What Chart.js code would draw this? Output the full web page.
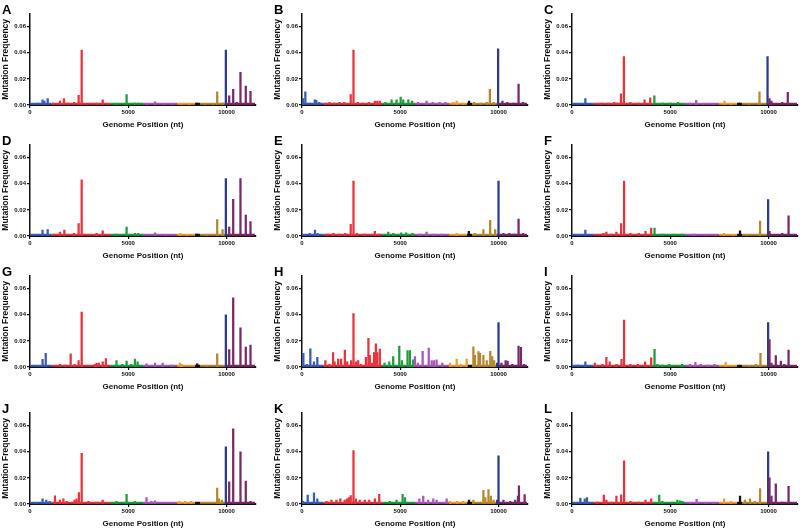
<!DOCTYPE html>
<html>
<head>
<meta charset="utf-8">
<script src="https://cdn.jsdelivr.net/npm/chart.js@4.4.1/dist/chart.umd.min.js"></script>
<style>
  body { margin: 0; background: #fff; width: 800px; height: 530px; position: relative; overflow: hidden; font-family: "Liberation Sans", Arial, sans-serif; }
  canvas { position: absolute; }
  .letter { position: absolute; font-weight: bold; font-size: 13px; line-height: 13px; color: #000; }
</style>
</head>
<body>
<script>
// genome regions (nt) and their colours
const regionStart = [0, 1100, 4080, 5750, 7480, 8400, 8650, 9920, 10030];
const regionEnd = [1100, 4080, 5750, 7480, 8400, 8650, 9920, 10030, 11450];
const regionColor = ["#3a5cb4", "#e8333d", "#1f9d3d", "#a957b8", "#f49b2c", "#111111", "#b7872e", "#2c3b90", "#7a2867"];
const baseFreq = 0.0009; // background level, drawn as the thick coloured baseline

const xTicks = [0, 5000, 10000];
const yTicks = [0, 0.02, 0.04, 0.06];

const panelLabels = ["A", "B", "C", "D", "E", "F", "G", "H", "I", "J", "K", "L"];

// mutation frequency per genome position
const posA = [180, 390, 640, 730, 900, 1190, 1525, 1730, 1950, 2240, 2475, 2630, 2900, 3390, 3700, 3950, 4400, 4915, 5340, 5510, 5950, 6360, 6800, 7200, 7700, 8100, 8475, 8900, 9300, 9525, 9800, 9966, 10136, 10340, 10520, 10710, 10980, 11220];
const freqA = [0.001, 0.0015, 0.004, 0.003, 0.005, 0.0015, 0.003, 0.005, 0.0015, 0.002, 0.0075, 0.042, 0.001, 0.0015, 0.004, 0.0012, 0.001, 0.008, 0.0015, 0.0015, 0.001, 0.0025, 0.0012, 0.001, 0.001, 0.001, 0.0015, 0.001, 0.001, 0.010, 0.0015, 0.042, 0.007, 0.012, 0.002, 0.025, 0.0145, 0.0105];

const posB = [50, 170, 400, 650, 730, 880, 1200, 1400, 1650, 1900, 2150, 2480, 2620, 2850, 3100, 3400, 3710, 3830, 3960, 4250, 4560, 4810, 5020, 5150, 5410, 5600, 5900, 6340, 6650, 7000, 7300, 7700, 7870, 8200, 8500, 8750, 9100, 9400, 9560, 9750, 9980, 10200, 10450, 10750, 11020, 11250];
const freqB = [0.005, 0.010, 0.0015, 0.004, 0.0035, 0.002, 0.0015, 0.002, 0.0015, 0.002, 0.002, 0.008, 0.042, 0.002, 0.0015, 0.002, 0.003, 0.003, 0.003, 0.002, 0.004, 0.004, 0.006, 0.004, 0.004, 0.003, 0.002, 0.003, 0.002, 0.002, 0.002, 0.002, 0.003, 0.0015, 0.003, 0.002, 0.0015, 0.002, 0.012, 0.002, 0.043, 0.003, 0.002, 0.0015, 0.016, 0.002];

const posC = [300, 680, 1500, 1850, 2150, 2300, 2490, 2640, 2970, 3400, 3690, 3980, 4190, 4600, 5000, 5400, 6000, 6320, 6700, 7200, 7760, 8100, 8490, 9000, 9540, 9950, 10050, 10150, 10700, 10980];
const freqC = [0.001, 0.005, 0.0015, 0.0015, 0.002, 0.0015, 0.0085, 0.037, 0.002, 0.0015, 0.004, 0.0055, 0.007, 0.0015, 0.0015, 0.002, 0.0015, 0.0035, 0.0012, 0.001, 0.003, 0.0012, 0.0015, 0.001, 0.010, 0.037, 0.005, 0.003, 0.002, 0.0097];

const posD = [200, 640, 900, 1190, 1525, 1750, 2240, 2475, 2630, 3390, 3700, 4400, 4915, 5340, 5510, 6360, 6900, 7650, 8000, 8475, 9000, 9525, 9800, 9966, 10136, 10340, 10710, 10980, 11220];
const freqD = [0.001, 0.0045, 0.005, 0.0015, 0.003, 0.0045, 0.002, 0.0095, 0.043, 0.002, 0.004, 0.0015, 0.0068, 0.002, 0.002, 0.0025, 0.0012, 0.002, 0.0012, 0.0015, 0.001, 0.0125, 0.005, 0.044, 0.0068, 0.028, 0.044, 0.016, 0.011];

const posE = [150, 390, 660, 800, 1300, 1600, 1900, 2200, 2480, 2620, 2800, 3200, 3710, 3900, 4390, 4650, 5050, 5300, 5620, 6000, 6340, 6700, 7100, 7870, 8490, 8800, 9230, 9575, 9830, 10000, 10250, 10550, 10800, 11020, 11250];
const freqE = [0.001, 0.002, 0.0045, 0.002, 0.0015, 0.002, 0.0015, 0.002, 0.009, 0.042, 0.002, 0.0015, 0.0035, 0.0015, 0.003, 0.002, 0.0025, 0.0025, 0.002, 0.0015, 0.003, 0.0015, 0.0015, 0.002, 0.0035, 0.002, 0.005, 0.012, 0.005, 0.042, 0.002, 0.002, 0.0015, 0.013, 0.002];

const posF = [300, 680, 1600, 1750, 2000, 2260, 2500, 2650, 2970, 3400, 3740, 4030, 4200, 4600, 5200, 5600, 6200, 6800, 7300, 7740, 8200, 8550, 8900, 9570, 9980, 10050, 10700, 11020];
const freqF = [0.001, 0.0045, 0.002, 0.003, 0.0015, 0.003, 0.0095, 0.042, 0.002, 0.002, 0.0035, 0.006, 0.006, 0.0015, 0.0015, 0.0015, 0.0015, 0.0012, 0.001, 0.002, 0.001, 0.004, 0.001, 0.0115, 0.0278, 0.0035, 0.002, 0.0155];

const posG = [420, 640, 800, 1525, 1800, 2070, 2270, 2475, 2630, 3300, 3390, 3500, 3700, 3860, 4400, 4700, 4915, 5150, 5340, 5475, 5930, 6360, 6750, 7200, 7630, 7720, 8510, 9000, 9525, 9966, 10136, 10340, 10710, 10980, 11220];
const freqG = [0.001, 0.0058, 0.0105, 0.002, 0.0015, 0.010, 0.002, 0.005, 0.042, 0.002, 0.003, 0.003, 0.004, 0.0065, 0.005, 0.002, 0.0045, 0.002, 0.006, 0.004, 0.0025, 0.003, 0.003, 0.0015, 0.003, 0.002, 0.0025, 0.001, 0.010, 0.040, 0.0133, 0.053, 0.030, 0.0152, 0.0168];

const posH = [70, 250, 425, 610, 780, 1190, 1400, 1580, 1660, 1840, 1990, 2180, 2300, 2500, 2620, 2740, 2860, 3000, 3250, 3380, 3450, 3570, 3670, 3760, 3830, 3960, 4200, 4440, 4640, 4950, 5080, 5370, 5490, 5660, 5750, 5900, 6140, 6450, 6600, 6720, 6850, 7140, 7530, 7870, 8100, 8380, 8550, 8720, 8800, 8980, 9060, 9230, 9400, 9580, 9680, 9780, 9930, 10000, 10150, 10360, 10460, 10700, 11020, 11140, 11300];
const freqH = [0.0105, 0.002, 0.014, 0.004, 0.0075, 0.005, 0.002, 0.011, 0.004, 0.006, 0.006, 0.013, 0.004, 0.005, 0.041, 0.004, 0.005, 0.002, 0.0075, 0.022, 0.009, 0.003, 0.011, 0.0178, 0.011, 0.0138, 0.003, 0.004, 0.008, 0.016, 0.005, 0.0125, 0.0125, 0.0055, 0.008, 0.003, 0.012, 0.0145, 0.005, 0.005, 0.0055, 0.003, 0.003, 0.006, 0.002, 0.006, 0.001, 0.0155, 0.009, 0.0118, 0.0105, 0.009, 0.005, 0.012, 0.008, 0.005, 0.003, 0.034, 0.003, 0.005, 0.0045, 0.002, 0.016, 0.015, 0.002];

const posI = [300, 680, 1160, 1550, 1750, 1920, 2260, 2520, 2650, 2970, 3350, 3720, 4030, 4200, 4350, 4600, 4950, 5600, 6000, 6280, 6550, 6900, 7250, 7820, 8490, 9000, 9350, 9590, 9980, 10050, 10150, 10370, 10630, 10800, 11020];
const freqI = [0.0015, 0.004, 0.003, 0.002, 0.0075, 0.004, 0.002, 0.0058, 0.036, 0.002, 0.002, 0.004, 0.007, 0.0135, 0.002, 0.0015, 0.002, 0.002, 0.002, 0.0035, 0.002, 0.0015, 0.002, 0.0035, 0.001, 0.001, 0.002, 0.0105, 0.034, 0.021, 0.003, 0.0088, 0.0045, 0.002, 0.013];

const posJ = [300, 640, 830, 1000, 1270, 1520, 1700, 1870, 2270, 2370, 2490, 2630, 2970, 3390, 3700, 4400, 4915, 5340, 5930, 6180, 6360, 7600, 7900, 8200, 8475, 9525, 9610, 9760, 9966, 10136, 10340, 10710, 10980, 11220];
const freqJ = [0.001, 0.004, 0.003, 0.002, 0.0063, 0.003, 0.004, 0.002, 0.003, 0.004, 0.0088, 0.0388, 0.002, 0.0015, 0.003, 0.002, 0.0075, 0.002, 0.005, 0.002, 0.0025, 0.002, 0.002, 0.002, 0.001, 0.0122, 0.004, 0.003, 0.0437, 0.017, 0.0575, 0.040, 0.0175, 0.002];

const posK = [50, 290, 610, 780, 1250, 1500, 1750, 1950, 2170, 2290, 2390, 2480, 2620, 2740, 2940, 3200, 3420, 3710, 3930, 4470, 4810, 5120, 5240, 5970, 6170, 6420, 6680, 6850, 7360, 7530, 7900, 8200, 8500, 8720, 9230, 9330, 9490, 9610, 9750, 9930, 10000, 10250, 10600, 10850, 10990, 11040, 11330];
const freqK = [0.002, 0.0068, 0.0085, 0.004, 0.002, 0.003, 0.003, 0.004, 0.003, 0.004, 0.005, 0.0065, 0.041, 0.004, 0.003, 0.003, 0.003, 0.004, 0.0075, 0.002, 0.003, 0.0075, 0.005, 0.004, 0.006, 0.003, 0.004, 0.003, 0.004, 0.002, 0.002, 0.002, 0.003, 0.003, 0.0105, 0.005, 0.011, 0.006, 0.003, 0.003, 0.0368, 0.003, 0.002, 0.003, 0.006, 0.014, 0.0073];

const posL = [200, 425, 650, 765, 1300, 1620, 1750, 2000, 2260, 2500, 2650, 2970, 3400, 3740, 4030, 4440, 4600, 5100, 5360, 5500, 5620, 6000, 6340, 6800, 7200, 7740, 8100, 8550, 8800, 9060, 9300, 9570, 9980, 10050, 10150, 10370, 10700, 11020];
const freqL = [0.001, 0.0045, 0.004, 0.005, 0.0015, 0.0068, 0.003, 0.0015, 0.006, 0.007, 0.033, 0.002, 0.0015, 0.003, 0.004, 0.0068, 0.002, 0.0015, 0.003, 0.0025, 0.002, 0.0012, 0.0035, 0.0012, 0.001, 0.004, 0.002, 0.006, 0.003, 0.004, 0.002, 0.0118, 0.040, 0.020, 0.006, 0.0155, 0.0015, 0.0135];

const panelPos = [posA, posB, posC, posD, posE, posF, posG, posH, posI, posJ, posK, posL];
const panelFreq = [freqA, freqB, freqC, freqD, freqE, freqF, freqG, freqH, freqI, freqJ, freqK, freqL];

// layout of the 4x3 grid: y-axis line x and zero line y
const colX = [30, 302, 572];
const rowY = [105, 236, 367, 504];
const plotW = 226, plotH = 93, yAxisW = 30, xAxisH = 26, padTop = 3, padRight = 4;

Chart.defaults.font.family = "'Liberation Sans', Arial, sans-serif";
Chart.defaults.color = "#111";

const colorAt = (x) => {
  for (let i = 0; i < regionStart.length; i++) {
    if (x >= regionStart[i] && x < regionEnd[i]) return regionColor[i];
  }
  return regionColor[regionColor.length - 1];
};

panelLabels.forEach((label, p) => {
  const left = colX[p % 3] - yAxisW;
  const top = rowY[Math.floor(p / 3)] - plotH - padTop;

  const canvas = document.createElement("canvas");
  canvas.width = yAxisW + plotW + padRight;
  canvas.height = padTop + plotH + xAxisH;
  canvas.style.left = left + "px";
  canvas.style.top = top + "px";
  document.body.appendChild(canvas);

  const letter = document.createElement("div");
  letter.className = "letter";
  letter.textContent = label;
  letter.style.left = (colX[p % 3] - 28) + "px";
  letter.style.top = (rowY[Math.floor(p / 3)] - 102) + "px";
  document.body.appendChild(letter);

  const bars = panelPos[p].map((x, i) => ({ x: x, y: panelFreq[p][i] }));

  const baselines = regionStart.map((s, i) => ({
    type: "line",
    data: [{ x: s, y: baseFreq }, { x: regionEnd[i], y: baseFreq }],
    borderColor: regionColor[i],
    borderWidth: 2,
    pointRadius: 0,
    order: 2,
  }));

  new Chart(canvas.getContext("2d"), {
    type: "bar",
    data: {
      datasets: [
        {
          data: bars,
          backgroundColor: (ctx) => colorAt(ctx.raw ? ctx.raw.x : 0),
          borderWidth: 0,
          barThickness: 1.6,
          grouped: false,
          order: 1,
        },
        ...baselines,
      ],
    },
    options: {
      responsive: false,
      animation: false,
      devicePixelRatio: 1,
      layout: { padding: { top: padTop, right: padRight, left: 0, bottom: 0 } },
      plugins: { legend: { display: false }, tooltip: { enabled: false } },
      scales: {
        x: {
          type: "linear",
          min: 0,
          max: 11500,
          offset: false,
          afterFit: (s) => { s.height = xAxisH; },
          afterBuildTicks: (s) => { s.ticks = xTicks.map((v) => ({ value: v })); },
          grid: { display: true, drawOnChartArea: false, drawTicks: true, tickLength: 3, color: "#111", lineWidth: 1.2, offset: false },
          border: { display: true, color: "#111", width: 2 },
          ticks: { padding: 1, font: { size: 6, weight: "bold" }, callback: (v) => String(v), maxRotation: 0 },
          title: { display: true, text: "Genome Position (nt)", font: { size: 8, weight: "bold" }, padding: { top: 0, bottom: 1 } },
        },
        y: {
          min: 0,
          max: 0.07,
          afterFit: (s) => { s.width = yAxisW; },
          afterBuildTicks: (s) => { s.ticks = yTicks.map((v) => ({ value: v })); },
          grid: { display: true, drawOnChartArea: false, drawTicks: true, tickLength: 3, color: "#111", lineWidth: 1.2 },
          border: { display: true, color: "#111", width: 1.5 },
          ticks: { padding: 1, font: { size: 6, weight: "bold" }, callback: (v) => v.toFixed(2) },
          title: { display: true, text: "Mutation Frequency", font: { size: 8.5, weight: "bold" }, padding: { top: 1, bottom: 0 } },
        },
      },
    },
  });
});
</script>
</body>
</html>
